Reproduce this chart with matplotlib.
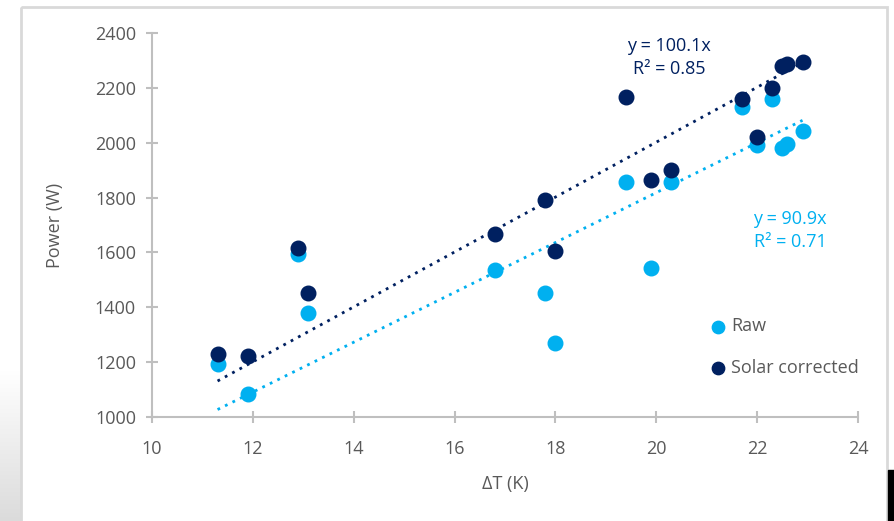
import numpy as np
import matplotlib
matplotlib.use("Agg")
import matplotlib.pyplot as plt
from matplotlib.patches import Rectangle

# data
delta_t = [11.3, 11.9, 12.9, 13.1, 16.8, 17.8, 18.0, 19.4, 19.9, 20.3,
           21.7, 22.0, 22.3, 22.5, 22.6, 22.9]
raw_power = [1193, 1084, 1594, 1378, 1536, 1451, 1271, 1855, 1543, 1855,
             2131, 1992, 2160, 1980, 1995, 2044]
solar_power = [1228, 1223, 1615, 1451, 1666, 1791, 1606, 2166, 1864, 1900,
               2160, 2020, 2198, 2280, 2287, 2295]
raw_slope, raw_r2 = 90.9, 0.71
solar_slope, solar_r2 = 100.1, 0.85

LIGHT = "#00B0F0"
DARK = "#002060"
GREY = "#595959"
AXIS = "#BFBFBF"

plt.rcParams["font.family"] = ["Open Sans", "DejaVu Sans"]

W, H = 894, 521
fig = plt.figure(figsize=(W / 100, H / 100), dpi=100)

# slide shading at lower left and frame around the chart
bg = fig.add_axes([0, 0, 1, 1], zorder=-5)
bg.axis("off")
shade = np.linspace(1.0, 0.86, 60)
img = np.repeat(shade[:, None, None], 3, axis=2)
bg.imshow(img, extent=(0, 21, H, 370), aspect="auto", interpolation="bilinear")
bg.set_xlim(0, W)
bg.set_ylim(H, 0)
bg.add_patch(Rectangle((21, 7), 866, H, fill=False, edgecolor="#D9D9D9", lw=2))
bg.add_patch(Rectangle((888, 470), 6, 51, color="black"))

ax = fig.add_axes([152 / W, 1 - 417 / H, (858 - 152) / W, (417 - 33) / H])

x = np.array(delta_t)
ax.scatter(x, raw_power, s=110, color=LIGHT, label="Raw", zorder=3)
ax.scatter(x, solar_power, s=110, color=DARK, label="Solar corrected", zorder=4)

xl = np.array([x.min(), x.max()])
ax.plot(xl, solar_slope * xl, ls=(0, (1, 2)), lw=2, color=DARK, zorder=2)
ax.plot(xl, raw_slope * xl, ls=(0, (1, 2)), lw=2, color=LIGHT, zorder=2)

ax.text(20.25, 2312, f"y = {solar_slope}x\nR² = {solar_r2}", color=DARK,
        fontsize=13, ha="center", va="center", linespacing=1.35)
ax.text(22.65, 1680, f"y = {raw_slope}x\nR² = {raw_r2}", color=LIGHT,
        fontsize=13, ha="center", va="center", linespacing=1.35)

ax.set_xlim(10, 24)
ax.set_ylim(1000, 2400)
ax.set_xticks(range(10, 25, 2))
ax.set_yticks(range(1000, 2401, 200))
for s in ["top", "right"]:
    ax.spines[s].set_visible(False)
for s in ["left", "bottom"]:
    ax.spines[s].set_color(AXIS)
    ax.spines[s].set_linewidth(1.5)
ax.tick_params(direction="inout", length=9, width=1.5, color=AXIS,
               labelcolor=GREY, labelsize=13)
ax.tick_params(axis="x", pad=12)
ax.tick_params(axis="y", pad=7)
ax.set_xlabel("ΔT (K)", color=GREY, fontsize=13, labelpad=12)
ax.set_ylabel("Power (W)", color=GREY, fontsize=13, labelpad=22)

leg = ax.legend(loc="lower right", bbox_to_anchor=(1.024, 0.062), frameon=False,
                fontsize=13, labelspacing=1.3, handletextpad=0.2,
                handlelength=1.0, markerscale=0.85)
for t in leg.get_texts():
    t.set_color(GREY)

fig.savefig("out.png", dpi=100)
